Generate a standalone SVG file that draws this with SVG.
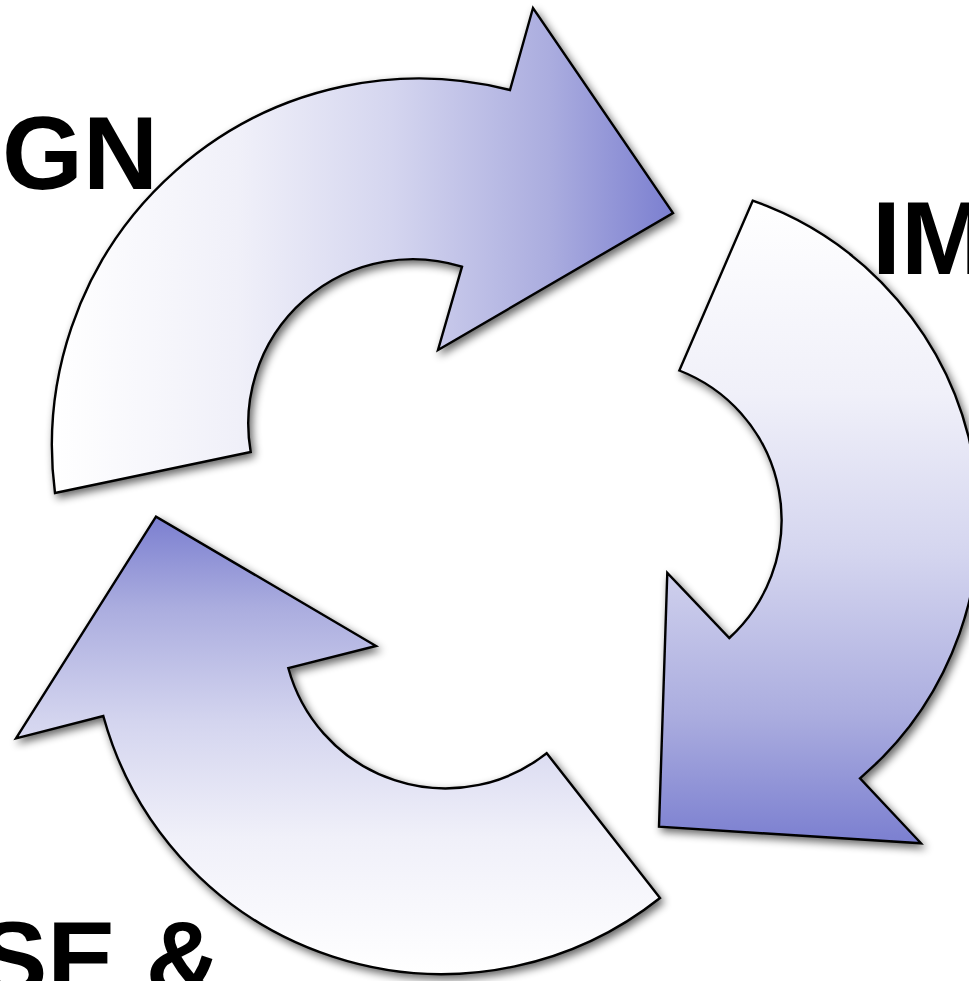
<svg xmlns="http://www.w3.org/2000/svg" width="969" height="981" viewBox="0 0 969 981">
  <defs>
    <linearGradient id="gH" x1="0" y1="0" x2="1" y2="0">
      <stop offset="0" stop-color="#ffffff"/>
      <stop offset="0.3" stop-color="#f0f0f9"/>
      <stop offset="0.55" stop-color="#d4d5ef"/>
      <stop offset="0.8" stop-color="#abaddf"/>
      <stop offset="1" stop-color="#7b7fd0"/>
    </linearGradient>
    <linearGradient id="gDown" x1="0" y1="0" x2="0" y2="1">
      <stop offset="0" stop-color="#ffffff"/>
      <stop offset="0.3" stop-color="#f0f0f9"/>
      <stop offset="0.55" stop-color="#d4d5ef"/>
      <stop offset="0.8" stop-color="#abaddf"/>
      <stop offset="1" stop-color="#7b7fd0"/>
    </linearGradient>
    <linearGradient id="gUp" x1="0" y1="1" x2="0" y2="0">
      <stop offset="0" stop-color="#ffffff"/>
      <stop offset="0.3" stop-color="#f0f0f9"/>
      <stop offset="0.55" stop-color="#d4d5ef"/>
      <stop offset="0.8" stop-color="#abaddf"/>
      <stop offset="1" stop-color="#7b7fd0"/>
    </linearGradient>
    <filter id="shadow" x="-10%" y="-10%" width="120%" height="120%">
      <feGaussianBlur in="SourceAlpha" stdDeviation="4"/>
      <feOffset dx="3" dy="4" result="b"/>
      <feComponentTransfer><feFuncA type="linear" slope="0.6"/></feComponentTransfer>
      <feMerge><feMergeNode/><feMergeNode in="SourceGraphic"/></feMerge>
    </filter>
  </defs>
  <style>
    .lbl { font-family: "Liberation Sans", Arial, sans-serif; font-weight: bold; font-size: 104px; fill: #000000; }
    .arrow { stroke: #000000; stroke-width: 2.4; stroke-linejoin: miter; filter: url(#shadow); }
  </style>
  <g id="label-design"><text class="lbl" x="2" y="189">GN</text></g>
  <g id="label-implement"><text class="lbl" x="872" y="274">IM</text></g>
  <g id="label-use"><text class="lbl" x="-22" y="994">SE &amp;</text></g>
  <g id="arrow-design">
    <path class="arrow" fill="url(#gH)" d="M 55,493 A 367,367 0 0 1 510,90 L 533,8 L 673,213 L 438,350 L 462,266.7 A 164.5,164.5 0 0 0 250.7,452 Z"/>
  </g>
  <g id="arrow-implement">
    <path class="arrow" fill="url(#gDown)" d="M 752.7,200.7 A 339,339 0 0 1 860,778.3 L 921,843.3 L 659,826.7 L 667.3,573 L 729.3,638 A 160,160 0 0 0 679.3,370.5 Z"/>
  </g>
  <g id="arrow-use">
    <path class="arrow" fill="url(#gUp)" d="M 660,898 A 351,351 0 0 1 103.3,716 L 16,738.3 L 156,516.7 L 376,646 L 288.3,668 A 163,163 0 0 0 546.7,753.3 Z"/>
  </g>
</svg>
